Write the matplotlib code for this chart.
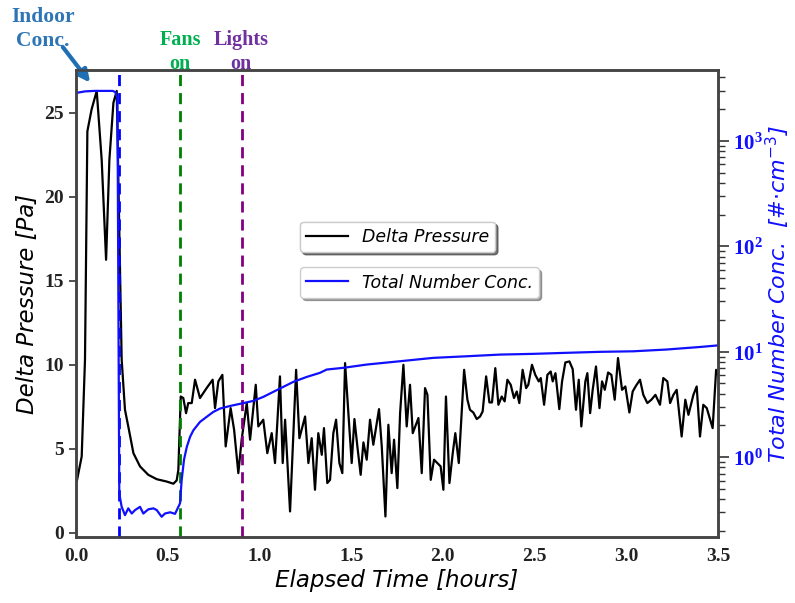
import matplotlib
matplotlib.use("Agg")
import matplotlib.pyplot as plt
from matplotlib.ticker import LogLocator, NullFormatter

plt.rcParams["mathtext.fontset"] = "custom"
plt.rcParams["mathtext.bf"] = "Liberation Serif:bold"
plt.rcParams["mathtext.rm"] = "DejaVu Sans"
plt.rcParams["mathtext.it"] = "DejaVu Sans:italic"

# ---------------- data ----------------
# Delta Pressure [Pa] vs elapsed time [hours]
dp_time = [0.004, 0.031, 0.049, 0.062, 0.085, 0.113, 0.140, 0.164, 0.182, 0.204, 0.222,
           0.249, 0.267, 0.285, 0.313, 0.349, 0.394, 0.440, 0.494, 0.531, 0.549, 0.558,
           0.571, 0.585, 0.600, 0.612, 0.631, 0.649, 0.676, 0.712, 0.745, 0.758, 0.776,
           0.798, 0.816, 0.843, 0.862, 0.885, 0.903, 0.931, 0.949, 0.980, 0.994, 1.021,
           1.043, 1.067, 1.085, 1.112, 1.127, 1.140, 1.167, 1.200, 1.218,
           1.249, 1.267, 1.285, 1.303, 1.321, 1.340, 1.352, 1.370, 1.385, 1.403, 1.418,
           1.436, 1.452, 1.467, 1.503, 1.518, 1.534, 1.552, 1.567, 1.585, 1.603, 1.621,
           1.652, 1.667, 1.687, 1.703, 1.721, 1.734, 1.752, 1.767, 1.785, 1.803, 1.821,
           1.836, 1.867, 1.885, 1.903, 1.916, 1.934, 1.952, 1.970, 1.988, 2.003, 2.017,
           2.036, 2.054, 2.068, 2.087, 2.116, 2.134, 2.148, 2.166, 2.185, 2.203, 2.217,
           2.236, 2.254, 2.268, 2.286, 2.303, 2.321, 2.337, 2.352, 2.370, 2.388, 2.403,
           2.417, 2.435, 2.454, 2.466, 2.486, 2.504, 2.523, 2.534, 2.552, 2.570, 2.588,
           2.599, 2.614, 2.635, 2.650, 2.668, 2.690, 2.708, 2.726, 2.741, 2.755, 2.777,
           2.788, 2.803, 2.817, 2.835, 2.854, 2.868, 2.883, 2.901, 2.919, 2.937, 2.955,
           2.977, 2.995, 3.017, 3.035, 3.053, 3.075, 3.093, 3.115, 3.137, 3.159, 3.184,
           3.202, 3.224, 3.239, 3.257, 3.275, 3.302, 3.322, 3.339, 3.366, 3.384, 3.402,
           3.420, 3.439, 3.471, 3.490, 3.508]
dp_value = [3.05, 4.54, 10.3, 23.9, 25.2, 26.3, 22.2, 16.25, 22.2, 25.6, 26.3,
            10.3, 7.32, 6.33, 4.74, 3.95, 3.45, 3.19, 3.05, 2.92, 3.12, 3.75,
            8.11, 8.02, 7.12, 7.72, 7.72, 9.11, 8.02, 8.61, 9.11, 7.42, 9.01,
            9.40, 5.14, 7.42, 6.13, 3.55, 5.54, 7.72, 5.54, 8.81, 6.33, 6.73,
            4.74, 5.93, 4.15, 9.31, 4.15, 6.73, 1.27, 9.70, 5.63,
            6.92, 4.15, 5.63, 2.56, 5.93, 4.64, 6.23, 2.96, 3.15, 5.93, 6.73,
            4.15, 3.55, 10.1, 4.15, 6.77, 5.14, 3.45, 5.38, 4.35, 6.73, 5.24,
            7.36, 5.14, 0.97, 6.43, 3.55, 5.54, 2.66, 7.12, 10.0, 6.33, 8.81,
            5.93, 6.83, 3.55, 8.61, 8.21, 3.15, 4.35, 4.15, 3.95, 2.56, 8.11,
            2.96, 4.74, 5.93, 4.15, 9.70, 7.92, 7.32, 7.16, 6.77, 6.92, 7.22,
            9.31, 7.76, 7.76, 9.80, 7.62, 8.11, 7.82, 9.11, 8.81, 8.02, 8.41,
            7.72, 9.70, 8.61, 8.81, 10.0, 9.40, 9.01, 9.21, 7.62, 9.40, 9.60,
            9.01, 9.50, 7.36, 9.01, 10.14, 10.2, 9.74, 7.32, 9.11, 6.33, 9.01,
            9.50, 7.12, 8.51, 9.90, 7.42, 9.01, 8.51, 9.54, 9.40, 7.92, 10.4,
            8.51, 8.71, 7.16, 8.41, 8.75, 9.11, 8.21, 7.72, 7.92, 8.21, 7.62,
            9.21, 9.01, 7.72, 8.21, 8.51, 5.73, 7.92, 7.02, 8.21, 8.71, 5.73,
            7.62, 7.42, 6.23, 9.70, 9.21]

# Total number concentration [#/cm^3] vs elapsed time [hours]
nc_time = [0.0, 0.05, 0.10, 0.15, 0.20, 0.215, 0.226, 0.236, 0.249, 0.267, 0.285, 0.304,
           0.322, 0.349, 0.367, 0.394, 0.422, 0.440, 0.467, 0.485, 0.513, 0.540, 0.558,
           0.567, 0.576, 0.589, 0.604, 0.622, 0.640, 0.676, 0.712, 0.749, 0.785, 0.840,
           0.903, 0.967, 1.021, 1.094, 1.185, 1.258, 1.330, 1.367, 1.458, 1.585, 1.767,
           1.948, 2.130, 2.312, 2.494, 2.675, 2.857, 3.039, 3.221, 3.403, 3.503]
nc_value = [2850, 2950, 2980, 2980, 2980, 2900, 2500, 0.45, 0.338, 0.282, 0.327, 0.292,
            0.315, 0.338, 0.292, 0.320, 0.327, 0.315, 0.272, 0.292, 0.300, 0.290, 0.338,
            0.364, 0.605, 0.95, 1.25, 1.56, 1.80, 2.16, 2.41, 2.69, 2.89, 3.06,
            3.23, 3.42, 3.73, 4.32, 5.18, 5.77, 6.31, 6.78, 7.04, 7.56, 8.13,
            8.75, 9.06, 9.40, 9.55, 9.77, 9.98, 10.1, 10.5, 11.1, 11.5]

# event markers [hours]
event_times = [0.236, 0.567, 0.903]
event_colors = ["#0000FF", "#008000", "#800080"]

x_ticks = [0.0, 0.5, 1.0, 1.5, 2.0, 2.5, 3.0, 3.5]
y_ticks = [0, 5, 10, 15, 20, 25]
log_ticks = [1, 10, 100, 1000]
log_labels = [r"$\mathbf{10^{0}}$", r"$\mathbf{10^{1}}$", r"$\mathbf{10^{2}}$", r"$\mathbf{10^{3}}$"]

# ---------------- figure ----------------
serif_bold = dict(family="Liberation Serif", weight="bold")
blue = "#1010FF"

fig = plt.figure(figsize=(7.95, 6.03), dpi=100)
ax = fig.add_axes([0.0956, 0.1095, 0.8075, 0.7745])
ax2 = ax.twinx()

l1, = ax.plot(dp_time, dp_value, color="black", lw=1.6, label="Delta Pressure")
l2, = ax2.plot(nc_time, nc_value, color=blue, lw=1.6, label="Total Number Conc.")

for t, c in zip(event_times, event_colors):
    ax.axvline(t, color=c, lw=2.0, ls=(0, (4, 2.5)), zorder=3)

ax.set_xlim(0, 3.5)
ax.set_ylim(-0.25, 27.55)
ax2.set_yscale("log")
ax2.set_ylim(0.175, 4710)

ax.set_xticks(x_ticks)
ax.set_xticklabels([f"{v:.1f}" for v in x_ticks], fontsize=14, **serif_bold)
ax.set_yticks(y_ticks)
ax.set_yticklabels([str(v) for v in y_ticks], fontsize=14, **serif_bold)

ax2.yaxis.set_minor_locator(LogLocator(base=10, subs=range(2, 10), numticks=20))
ax2.yaxis.set_minor_formatter(NullFormatter())
ax2.set_yticks(log_ticks)
ax2.set_yticklabels(log_labels, fontsize=15, color=blue)

ax.tick_params(axis="y", direction="out", length=5, width=1.2, colors="#333333", labelcolor="#222222")
ax.tick_params(axis="x", direction="out", length=0, labelcolor="#222222", pad=8)
ax2.tick_params(axis="y", which="major", direction="out", length=8, width=1.2, colors="#333333",
                labelcolor=blue, pad=3)
ax2.tick_params(axis="y", which="minor", direction="out", length=5, width=1.0, colors="#333333")

for a in (ax, ax2):
    for s in a.spines.values():
        s.set_color("#444444")
        s.set_linewidth(1.8)

ax.set_xlabel("Elapsed Time [hours]", fontsize=16.5, style="italic", family="DejaVu Sans", labelpad=3)
ax.set_ylabel("Delta Pressure [Pa]", fontsize=16.5, style="italic", family="DejaVu Sans", labelpad=4)
ax2.set_ylabel(r"Total Number Conc.  [#$\cdot$cm$^{-3}$]", fontsize=16, style="italic",
               family="DejaVu Sans", color=blue)
ax2.yaxis.set_label_coords(1.072, 0.52)

leg1 = ax.legend(handles=[l1], loc="upper left", bbox_to_anchor=(0.349, 0.675), fancybox=True,
                 shadow=True, prop=dict(style="italic", size=12.5), handlelength=2.4,
                 borderpad=0.35, borderaxespad=0)
ax.add_artist(leg1)
leg2 = ax2.legend(handles=[l2], loc="upper left", bbox_to_anchor=(0.349, 0.577), fancybox=True,
                  shadow=True, prop=dict(style="italic", size=12.5), handlelength=2.4,
                  borderpad=0.35, borderaxespad=0)

# annotations above the plot
fig.text(0.054, 0.952, "Indoor\nConc.", ha="center", va="center", color="#2E75B6",
         fontsize=15.5, linespacing=1.25, **serif_bold)
ax.annotate("", xy=(0.077, 26.8), xycoords="data",
            xytext=(0.079, 0.922), textcoords="figure fraction",
            arrowprops=dict(arrowstyle="-|>", color="#1F6FB4", lw=3, mutation_scale=18,
                            shrinkA=0, shrinkB=0),
            annotation_clip=False)
fig.text(0.2264, 0.914, "Fans\non", ha="center", va="center", color="#00B050",
         fontsize=14.5, linespacing=1.3, **serif_bold)
fig.text(0.303, 0.914, "Lights\non", ha="center", va="center", color="#7030A0",
         fontsize=14.5, linespacing=1.3, **serif_bold)

fig.savefig("out.png", dpi=100)
